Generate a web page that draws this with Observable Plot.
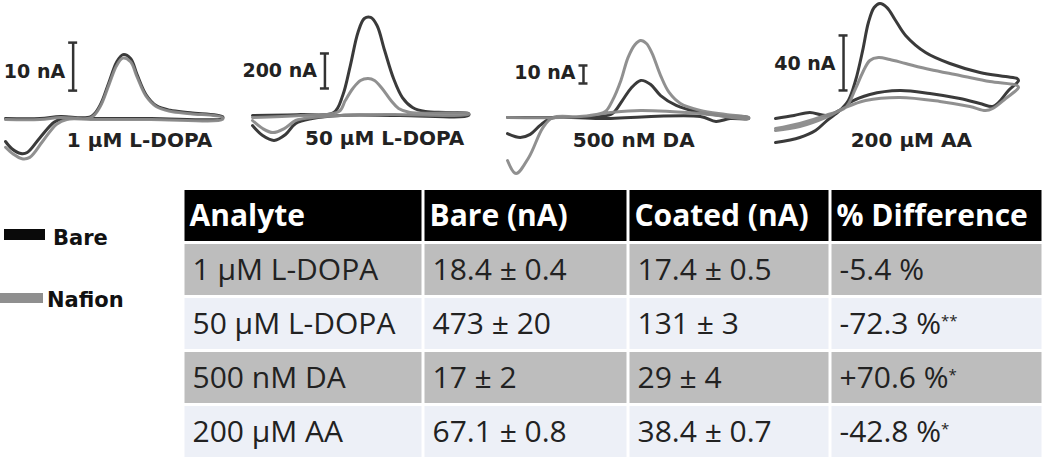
<!DOCTYPE html>
<html><head><meta charset="utf-8">
<script src="https://cdn.jsdelivr.net/npm/d3@7"></script>
<script src="https://cdn.jsdelivr.net/npm/@observablehq/plot@0.6"></script>
<style>
body{margin:0;background:#fff;}
#root{position:relative;width:1050px;height:459px;overflow:hidden;font-family:"Open Sans",sans-serif;}
#root svg{position:absolute;left:0;top:0;}
.sw{position:absolute;}
.lt{position:absolute;font-family:"DejaVu Sans",sans-serif;font-weight:bold;font-size:21px;line-height:24px;color:#111;}
</style></head>
<body><div id="root"></div>
<script>
// ---------- DATA ----------
// Cyclic voltammograms: [potential (V), current (nA)]
const p1Bare = [[-0.40,-0.2],[-0.13,-0.2],[0.03,0.2],[0.27,0.2],[0.34,2.5],[0.41,7.3],[0.47,11.5],[0.52,13.1],[0.58,12.3],[0.63,9.0],[0.70,4.8],[0.78,2.5],[0.89,1.5],[1.05,1.0],[1.30,0.2],
 [1.30,-0.2],[0.74,-0.2],[0.27,-0.2],[0.05,-0.2],[-0.02,-1.0],[-0.13,-4.2],[-0.23,-7.3],[-0.28,-7.5],[-0.35,-6.5],[-0.40,-5.0]];
const p1Nafion = [[-0.40,-0.4],[-0.13,-0.4],[0.03,0.0],[0.27,0.0],[0.34,2.2],[0.41,6.8],[0.47,10.8],[0.52,12.4],[0.58,11.6],[0.63,8.5],[0.70,4.5],[0.78,2.3],[0.89,1.3],[1.05,0.8],[1.30,0.0],
 [1.30,-0.4],[0.74,-0.4],[0.27,-0.4],[0.08,-0.4],[0.0,-1.4],[-0.11,-5.0],[-0.21,-8.3],[-0.27,-8.6],[-0.34,-7.6],[-0.40,-6.2]];
const p2Bare = [[-0.40,-11],[-0.02,-6],[0.24,6],[0.31,103],[0.37,274],[0.43,463],[0.48,543],[0.53,549],[0.58,503],[0.64,360],[0.71,200],[0.78,91],[0.86,34],[0.96,11],[1.12,6],[1.30,0],
 [1.30,-11],[0.76,-11],[0.29,-11],[0.07,-29],[-0.06,-57],[-0.14,-120],[-0.23,-154],[-0.32,-126],[-0.40,-69]];
const p2Nafion = [[-0.40,-23],[-0.02,-11],[0.28,11],[0.33,74],[0.39,143],[0.45,189],[0.51,200],[0.56,189],[0.62,143],[0.69,74],[0.75,29],[0.84,6],[1.30,0],
 [1.30,-6],[0.70,-6],[0.30,-11],[0.07,-23],[-0.06,-40],[-0.15,-86],[-0.24,-109],[-0.32,-86],[-0.40,-40]];
const p3Bare = [[-0.40,0],[-0.03,0],[0.26,0.6],[0.34,2.2],[0.41,9.4],[0.47,16.1],[0.54,20.6],[0.61,18.3],[0.68,12.2],[0.79,6.7],[0.93,3.3],[1.10,1.1],[1.30,0],
 [1.30,-0.6],[1.17,-0.6],[1.07,-2.2],[0.96,0.6],[0.26,-0.6],[-0.10,-0.6],[-0.17,-4.4],[-0.24,-9.4],[-0.31,-11.1],[-0.40,-8.9]];
const p3Nafion = [[-0.40,0],[-0.03,0],[0.19,1.1],[0.29,3.3],[0.34,9.4],[0.40,20.6],[0.45,33.3],[0.50,40.6],[0.54,42.8],[0.58,41.1],[0.62,35.6],[0.68,23.3],[0.74,13.9],[0.82,7.8],[0.96,3.9],[1.14,1.7],[1.30,0],
 [1.30,-0.6],[0.96,2.2],[0.54,3.9],[0.33,2.8],[0.11,0.5],[-0.08,0],[-0.15,-5.6],[-0.25,-22.2],[-0.34,-31.1],[-0.40,-23.9]];
const p4Bare = [[-0.40,-25.5],[-0.23,-21.8],[-0.12,-16.7],[-0.04,-9.5],[0.05,-2.2],[0.11,5.1],[0.16,19.6],[0.21,41.5],[0.25,61.8],[0.29,72.7],[0.33,75.6],[0.38,72.7],[0.44,63.3],[0.51,52.4],[0.65,40.0],[0.82,32.0],[1.03,25.5],[1.21,22.5],[1.29,21.1],
 [1.30,19.6],[1.23,12.4],[1.16,3.6],[1.12,0.7],[1.03,2.9],[0.89,6.5],[0.68,10.2],[0.47,12.4],[0.26,9.5],[0.12,3.6],[0.08,0],[-0.04,-5.8],[-0.16,-3.6],[-0.27,-5.8],[-0.40,-8.0]];
const p4Nafion = [[-0.40,-15.3],[-0.23,-11.6],[-0.05,-5.8],[0.09,0],[0.16,13.8],[0.21,25.5],[0.26,34.2],[0.32,36.4],[0.40,34.9],[0.51,32.0],[0.68,27.6],[0.89,23.3],[1.10,18.9],[1.29,16.0],
 [1.30,14.5],[1.21,6.5],[1.12,-0.7],[1.07,-2.2],[0.96,0.7],[0.75,4.4],[0.47,7.3],[0.23,5.1],[0.09,0],[-0.05,-7.3],[-0.23,-13.8],[-0.40,-16.7]];

const concLabels = ["1 µM L-DOPA", "50 µM L-DOPA", "500 nM DA", "200 µM AA"];
const scaleValues = [10, 200, 10, 40];
const scaleLabels = ["10 nA", "200 nA", "10 nA", "40 nA"];
const seriesNames = ["Bare", "Nafion"];

// Table
const headers = ["Analyte", "Bare (nA)", "Coated (nA)", "% Difference"];
const analytes = ["1 µM L-DOPA", "50 µM L-DOPA", "500 nM DA", "200 µM AA"];
const bareVals = ["18.4 ± 0.4", "473 ± 20", "17 ± 2", "67.1 ± 0.8"];
const coatedVals = ["17.4 ± 0.5", "131 ± 3", "29 ± 4", "38.4 ± 0.7"];
const diffVals = ["-5.4 %", "-72.3 %", "+70.6 %", "-42.8 %"];
const sigMarks = ["", "**", "*", "*"];

// ---------- LAYOUT (annotation placement, page coords) ----------
const traces = [[p1Bare,p1Nafion],[p2Bare,p2Nafion],[p3Bare,p3Nafion],[p4Bare,p4Nafion]];
const panelX = [[5,222],[252,468],[507,748],[775,1018]];
const panelBase = [117,113,117,107];
const panelBarPx = [48,35,18,55];
const barAt = [[0.13,5.6],[0.17,143],[0.136,18.9],[0.076,12.4]];   // [E, lower end of bar]
const barTextI = [9.4,246,25,32];
const concAt = [[0.65,-4.8],[0.64,-143],[0.49,-12.8],[0.55,-24]];
const colors = {Bare:"#2f2f2f", Nafion:"#8a8a8a"};

const root = document.getElementById("root");

traces.forEach((tr, i) => {
  const [x0, x1] = panelX[i];
  const capE = 4.5 * 1.7 / (x1 - x0);
  const [bE, bI] = barAt[i];
  const sv = scaleValues[i];
  const svg = Plot.plot({
    width: 1050, height: 180, margin: 0,
    style: {background: "transparent", overflow: "visible"},
    x: {domain: [-0.4, 1.3], range: [x0, x1], axis: null},
    y: {domain: [0, sv], range: [panelBase[i], panelBase[i] - panelBarPx[i]], axis: null},
    marks: [
      ...tr.map((pts, k) => Plot.line(pts, {x: d => d[0], y: d => d[1], curve: "catmull-rom",
        stroke: colors[seriesNames[k]], strokeWidth: 3, strokeLinejoin: "round", strokeLinecap: "round", strokeOpacity: 0.95})),
      Plot.ruleX([bE], {x: d => d, y1: () => bI, y2: () => bI + sv, stroke: "#333", strokeWidth: 2.5}),
      Plot.ruleY([bI, bI + sv], {y: d => d, x1: () => bE - capE, x2: () => bE + capE, stroke: "#333", strokeWidth: 2.5}),
      Plot.text([scaleLabels[i]], {x: () => bE, y: () => barTextI[i], text: d => d, textAnchor: "end", dx: -8,
        fontFamily: "DejaVu Sans", fontWeight: "bold", fontSize: 19, fill: "#222"}),
      Plot.text([concLabels[i]], {x: () => concAt[i][0], y: () => concAt[i][1], text: d => d, textAnchor: "middle",
        fontFamily: "DejaVu Sans", fontWeight: "bold", fontSize: 20, fill: "#222"})
    ]
  });
  root.appendChild(svg);
});

// ---------- TABLE ----------
const rows = ["header", ...analytes];
const cells = [];
rows.forEach((r, ri) => {
  const vals = ri === 0 ? headers : [analytes[ri-1], bareVals[ri-1], coatedVals[ri-1], diffVals[ri-1]];
  vals.forEach((v, ci) => cells.push({row: r, col: ci, text: v, band: ri === 0 ? "header" : (ri % 2 ? "dark" : "light")}));
});
const tbl = Plot.plot({
  width: 1050, height: 459, margin: 0,
  style: {background: "transparent", overflow: "visible", fontFamily: "Open Sans"},
  x: {type: "linear", domain: [0, 1, 2, 3, 4], range: [183, 423, 628, 830, 1043], axis: null},
  y: {type: "band", domain: rows, range: [190, 457], paddingInner: 0.06, paddingOuter: 0, axis: null},
  color: {domain: ["header", "dark", "light"], range: ["#000000", "#bdbdbd", "#edf0f7"]},
  marks: [
    Plot.barX(cells, {x1: "col", x2: d => d.col + 1, y: "row", fill: "band", insetLeft: 1.5, insetRight: 1.5}),
    Plot.text(cells.filter(d => d.band === "header"), {x: "col", y: "row", text: "text", textAnchor: "start", dx: 6,
      fill: "#fff", fontSize: 30, fontWeight: "bold"}),
    Plot.text(cells.filter(d => d.band !== "header"), {x: "col", y: "row", text: "text", textAnchor: "start", dx: 9,
      fill: "#222", fontSize: 30})
  ]
});
tbl.querySelectorAll("text").forEach(t => {
  const i = diffVals.indexOf(t.textContent);
  if (i >= 0 && sigMarks[i]) {
    const ts = document.createElementNS("http://www.w3.org/2000/svg", "tspan");
    ts.setAttribute("dy", "-8");
    ts.setAttribute("font-size", "15");
    ts.textContent = sigMarks[i];
    t.appendChild(ts);
  }
});
root.appendChild(tbl);

// ---------- LEGEND ----------
const legend = [
  {name: seriesNames[0], bar: [4, 229, 41, 11], text: [53, 226]},
  {name: seriesNames[1], bar: [0, 293, 43, 10], text: [47, 288]}
];
legend.forEach(l => {
  const b = document.createElement("div");
  b.className = "sw";
  Object.assign(b.style, {left: l.bar[0]+"px", top: l.bar[1]+"px", width: l.bar[2]+"px", height: l.bar[3]+"px",
    background: l.name === "Bare" ? "#0a0a0a" : "#8f8f8f"});
  root.appendChild(b);
  const t = document.createElement("div");
  t.className = "lt";
  t.style.left = l.text[0] + "px"; t.style.top = l.text[1] + "px";
  t.textContent = l.name;
  root.appendChild(t);
});
</script></body></html>
